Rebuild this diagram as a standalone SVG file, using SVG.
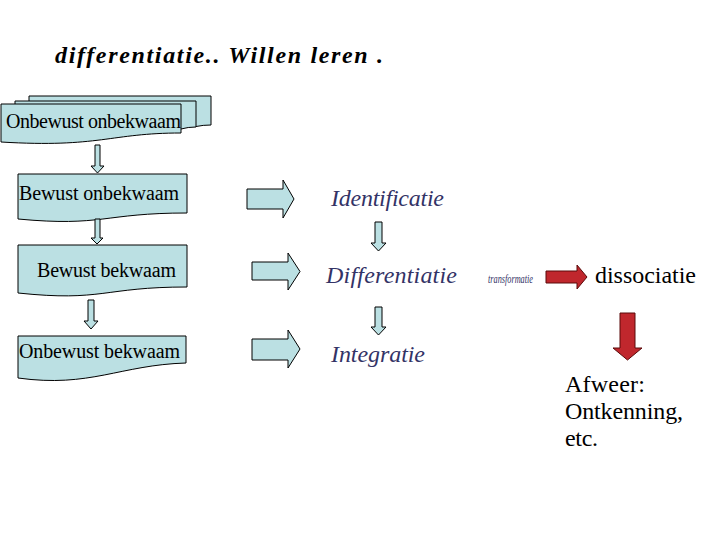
<svg xmlns="http://www.w3.org/2000/svg" width="720" height="540" viewBox="0 0 720 540">
<style>
.doc{fill:#bbe0e3;stroke:#000;stroke-width:1}
.arr{fill:#bbe0e3;stroke:#000;stroke-width:1}
.red{fill:#c0272d;stroke:#5a0a0a;stroke-width:1}
text{font-family:"Liberation Serif","DejaVu Serif",Times,serif}
.t{font-size:20px;fill:#000}
.it{font-style:italic;font-size:24px;fill:#333366}
.big{font-size:24px;fill:#000}
</style>
<rect width="720" height="540" fill="#fff"/>
<g id="title">
<text x="55" y="63" font-size="24" font-weight="bold" font-style="italic" textLength="328" lengthAdjust="spacing">differentiatie.. Willen leren .</text>
</g>
<g id="onbewust-onbekwaam">
<path class="doc" d="M29,96 H211 V125 Q203,125 196,126.5 L29,127 Z"/>
<path class="doc" d="M15,101 H196 V127 Q188,127 181,129 L15,130 Z"/>
<path class="doc" d="M1,104 H181 V133 C110,133 100,148 1,142 Z"/>
<text class="t" x="6" y="128" font-size="19" textLength="175" lengthAdjust="spacing">Onbewust onbekwaam</text>
</g>
<g id="bewust-onbekwaam">
<path class="doc" d="M18,174 H187 V213 C103,213 103,227 18,219 Z"/>
<text class="t" x="19" y="200" textLength="160" lengthAdjust="spacing">Bewust onbekwaam</text>
</g>
<g id="bewust-bekwaam">
<path class="doc" d="M18,245 H187 V287 C103,287 103,302 18,293 Z"/>
<text class="t" x="37" y="277" textLength="139" lengthAdjust="spacing">Bewust bekwaam</text>
</g>
<g id="onbewust-bekwaam">
<path class="doc" d="M18,336 H186 V363 C120,365 90,388 18,378 Z"/>
<text class="t" x="19" y="358" textLength="161" lengthAdjust="spacing">Onbewust bekwaam</text>
</g>
<g id="identificatie">
<text class="it" x="331" y="206" textLength="113" lengthAdjust="spacing">Identificatie</text>
</g>
<g id="differentiatie">
<text class="it" x="326" y="283" textLength="131" lengthAdjust="spacing">Differentiatie</text>
<text x="488" y="283" font-style="italic" font-size="13" fill="#333366" textLength="45" lengthAdjust="spacingAndGlyphs">transformatie</text>
</g>
<g id="integratie">
<text class="it" x="331" y="362" textLength="94" lengthAdjust="spacing">Integratie</text>
</g>
<g id="dissociatie">
<text class="big" x="595" y="283" textLength="101" lengthAdjust="spacing">dissociatie</text>
</g>
<g id="afweer">
<text class="big" x="565" y="392" textLength="80" lengthAdjust="spacing">Afweer:</text>
<text class="big" x="565" y="419" textLength="118" lengthAdjust="spacing">Ontkenning,</text>
<text class="big" x="565" y="446" textLength="33" lengthAdjust="spacing">etc.</text>
</g>
<g id="connectors">
<path class="arr" d="M95,145 H100 V166 H104 L97.5,173 L91,166 H95 Z"/>
<path class="arr" d="M95,219 H100 V238 H103 L97,244 L91,238 H95 Z"/>
<path class="arr" d="M88,300 H94 V321 H98 L91,329 L84,321 H88 Z"/>
<path class="arr" d="M375,222 H382 V243 H386 L378.5,251 L371,243 H375 Z"/>
<path class="arr" d="M375,307 H382 V327 H386 L378.5,335 L371,327 H375 Z"/>
<path class="arr" d="M247,189 H283 V180 L294,199 L283,218 V209 H247 Z"/>
<path class="arr" d="M252,262 H288 V253 L300,271.5 L288,290 V280 H252 Z"/>
<path class="arr" d="M252,339 H288 V330 L300,349 L288,368 V360 H252 Z"/>
<path class="red" d="M546,271 H577 V265 L587,277 L577,289 V283 H546 Z"/>
<path class="red" d="M620,313 H635 V348 H642 L627.5,360 L613,348 H620 Z"/>
</g>
</svg>
